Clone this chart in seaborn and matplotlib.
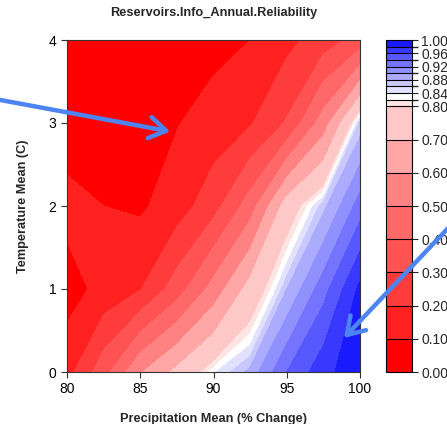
import numpy as np
import matplotlib
matplotlib.use("Agg")
import matplotlib.pyplot as plt
from matplotlib.colors import ListedColormap, BoundaryNorm
import seaborn as sns

# ── Data ─────────────────────────────────────────────────────────────────────
precip = [80, 82.5, 85, 87.5, 90, 92.5, 95, 97.5, 100]
temp = [0, 1, 2, 3, 4]

# reliability by temperature row (0 C at first), one value per precip column
rel_t0 = [0.16, 0.36, 0.59, 0.725, 0.836, 0.888, 0.94, 0.973, 0.995]
rel_t1 = [0.06, 0.13, 0.195, 0.35, 0.54, 0.74, 0.88, 0.932, 0.985]
rel_t2 = [0.13, 0.10, 0.085, 0.15, 0.26, 0.45, 0.75, 0.875, 0.93]
rel_t3 = [0.05, 0.05, 0.06, 0.095, 0.14, 0.19, 0.31, 0.55, 0.87]
rel_t4 = [0.02, 0.03, 0.04, 0.05, 0.07, 0.10, 0.17, 0.25, 0.34]

levels = [0.0, 0.1, 0.2, 0.3, 0.4, 0.5, 0.6, 0.7, 0.8,
          0.82, 0.84, 0.86, 0.88, 0.90, 0.92, 0.94, 0.96, 0.98, 1.0]
band_colors = ["#FF0000", "#FF2020", "#FF3C3C", "#FF5252", "#FF6868",
               "#FF8282", "#FFA6A6", "#FFC8C8", "#FFE4E4", "#FFFFFF",
               "#E2E2FF", "#C8C8FF", "#ACACFF", "#9090FF", "#7474FF",
               "#5858FF", "#3838FF", "#1A1AFF"]
cbar_ticks = [0.0, 0.1, 0.2, 0.3, 0.4, 0.5, 0.6, 0.7, 0.8,
              0.84, 0.88, 0.92, 0.96, 1.0]

title = "Reservoirs.Info_Annual.Reliability"
xlabel = "Precipitation Mean (% Change)"
ylabel = "Temperature Mean (C)"

# ── Style ────────────────────────────────────────────────────────────────────
sns.set_theme(style="ticks")
plt.rcParams.update({
    "font.family": ["Liberation Sans", "DejaVu Sans"],
    "axes.edgecolor": "#333333",
    "axes.linewidth": 0.8,
})

Z = np.array([rel_t0, rel_t1, rel_t2, rel_t3, rel_t4])
cmap = ListedColormap(band_colors)
norm = BoundaryNorm(levels, cmap.N)

fig = plt.figure(figsize=(4.47, 4.24), dpi=100)
ax = fig.add_axes([67 / 447, 52 / 424, 293 / 447, 332 / 424])
cax = fig.add_axes([386 / 447, 52 / 424, 26 / 447, 332 / 424])

cs = ax.contourf(precip, temp, Z, levels=levels, cmap=cmap, norm=norm)
ax.set_xlim(80, 100)
ax.set_ylim(0, 4)
ax.set_xticks([80, 85, 90, 95, 100])
ax.set_yticks([0, 1, 2, 3, 4])
ax.tick_params(axis="both", labelsize=10, length=4.5, width=0.8,
               color="#333333", labelcolor="black", pad=3)
ax.set_title(title, fontsize=9.2, fontweight="bold", pad=17)
ax.set_xlabel(xlabel, fontsize=9.2, fontweight="bold", labelpad=12)
ax.set_ylabel(ylabel, fontsize=9.2, fontweight="bold", labelpad=14)

cb = fig.colorbar(cs, cax=cax, ticks=cbar_ticks, spacing="proportional",
                  drawedges=True)
cb.dividers.set_color("black")
cb.dividers.set_linewidth(0.8)
cb.outline.set_edgecolor("black")
cb.outline.set_linewidth(0.8)
cb.ax.set_yticklabels([f"{t:.2f}" for t in cbar_ticks])
cb.ax.tick_params(labelsize=10, length=4.5, width=0.8, pad=2)

# highlight arrows
arrow_kw = dict(arrowstyle="->,head_length=0.55,head_width=0.35",
                color="#4C85F2", lw=3.2, mutation_scale=22)
fig.add_artist(plt.Annotation("", xy=(173 / 447, 1 - 132 / 424),
                              xytext=(-5 / 447, 1 - 99 / 424),
                              xycoords="figure fraction",
                              textcoords="figure fraction",
                              arrowprops=arrow_kw, annotation_clip=False))
fig.add_artist(plt.Annotation("", xy=(342 / 447, 1 - 340 / 424),
                              xytext=(452 / 447, 1 - 224 / 424),
                              xycoords="figure fraction",
                              textcoords="figure fraction",
                              arrowprops=arrow_kw, annotation_clip=False))

fig.savefig("out.png", dpi=100)
